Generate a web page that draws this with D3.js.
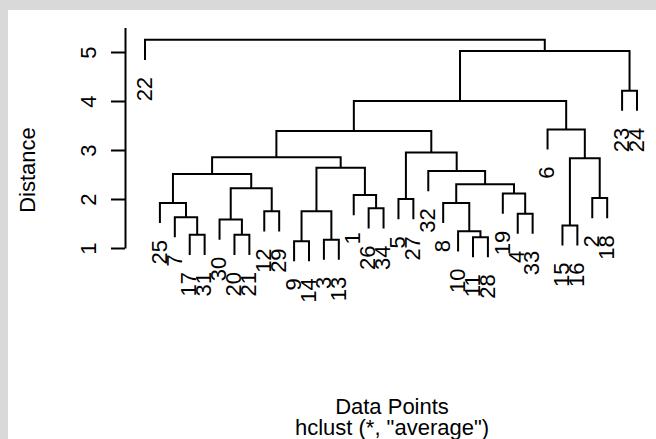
<!DOCTYPE html>
<html>
<head>
<meta charset="utf-8">
<script src="https://cdn.jsdelivr.net/npm/d3@7"></script>
<style>
body { margin: 0; background: #d9d9d9; }
svg { display: block; }
text { font-family: "Liberation Sans", Arial, sans-serif; fill: #000; }
</style>
</head>
<body>
<svg id="main" width="656" height="439"></svg>
<script>
// hclust merge table, R style: negative = observation, positive = earlier merge step
var mergeLeft   = [-9, -3, -11, -17, -20, -10, -15, -30, -7, -4, -12, 1, -26, -25, -8, -5, -2,
                   -1, -19, 8, 15, 14, -32, 12, 7, 22, 16, 26, -6, 28, -23, 30, -22];
var mergeRight  = [-14, -13, -28, -31, -21, 3, -16, 5, 4, -33, -29, 2, -34, 9, 6, -27, -18,
                   13, 10, 11, 19, 20, 21, 18, 17, 24, 23, 27, 25, 29, -24, 31, 32];
var mergeHeight = [1.14, 1.17, 1.22, 1.27, 1.27, 1.34, 1.46, 1.58, 1.63, 1.70, 1.75, 1.75, 1.81,
                   1.92, 1.92, 2.00, 2.02, 2.08, 2.11, 2.22, 2.30, 2.51, 2.57, 2.64, 2.83, 2.85,
                   2.95, 3.39, 3.42, 4.00, 4.21, 5.02, 5.25];
var yTicks = [1, 2, 3, 4, 5];

var W = 656, H = 439;
var svg = d3.select("#main");

// panel
svg.append("rect").attr("width", W).attr("height", H).attr("fill", "#d9d9d9");
svg.append("rect").attr("x", 8).attr("y", 10).attr("width", W - 8).attr("height", H - 10).attr("fill", "#fff");

// build the tree from the merge table
function build(k) {
	if (k < 0) return { name: String(-k) };
	return { name: "", h: mergeHeight[k - 1],
		children: [build(mergeLeft[k - 1]), build(mergeRight[k - 1])] };
}
var root = d3.hierarchy(build(mergeHeight.length));
var n = root.leaves().length;
d3.cluster().separation(function() { return 1; }).size([n, 1])(root);

var hang = 0.1 * (d3.max(mergeHeight) - d3.min(mergeHeight));

var x = d3.scaleLinear().domain([0.5, n - 0.5]).range([145, 637]);
var y = d3.scaleLinear().domain([1, 5.5]).range([248, 27.5]);

function nodeH(d) { return d.children ? d.data.h : d.parent.data.h - hang; }

// branches
svg.append("g")
	.selectAll("path")
	.data(root.descendants().filter(function(d) { return d.children; }))
	.enter()
	.append("path")
	  .attr("d", function(d) {
		var a = d.children[0], b = d.children[1];
		return "M" + x(a.x) + "," + y(nodeH(a)) +
			"V" + y(d.data.h) + "H" + x(b.x) + "V" + y(nodeH(b));
	  })
	  .attr("fill", "none")
	  .attr("stroke", "#000")
	  .attr("stroke-width", 2);

// leaf labels
svg.append("g")
	.selectAll("text")
	.data(root.leaves())
	.enter()
	.append("text")
	  .attr("transform", function(d) {
		return "translate(" + (x(d.x) - 1) + "," + (y(nodeH(d)) + 17) + ") rotate(-90)";
	  })
	  .attr("dy", "0.35em")
	  .style("text-anchor", "end")
	  .style("font-size", "22px")
	  .text(function(d) { return d.data.name; });

// y axis
var yAxis = svg.append("g")
	.attr("transform", "translate(125,0)")
	.call(d3.axisLeft(y).tickValues(yTicks).tickSize(14).tickSizeOuter(0).tickFormat(d3.format("d")));
yAxis.select(".domain").attr("stroke-width", 2);
yAxis.selectAll(".tick line").attr("stroke-width", 2);
yAxis.selectAll(".tick text")
	.attr("x", null).attr("dy", null)
	.attr("transform", "translate(-29,0) rotate(-90)")
	.style("text-anchor", "middle")
	.style("font-size", "22px")
	.style("font-family", "'Liberation Sans', Arial, sans-serif");

// axis titles
svg.append("text")
	.attr("transform", "translate(35,170) rotate(-90)")
	.style("text-anchor", "middle")
	.style("font-size", "22px")
	.text("Distance");

svg.append("text")
	.attr("x", 392).attr("y", 414)
	.style("text-anchor", "middle")
	.style("font-size", "22px")
	.text("Data Points");

svg.append("text")
	.attr("x", 392).attr("y", 435)
	.style("text-anchor", "middle")
	.style("font-size", "22px")
	.text("hclust (*, \"average\")");
</script>
</body>
</html>
